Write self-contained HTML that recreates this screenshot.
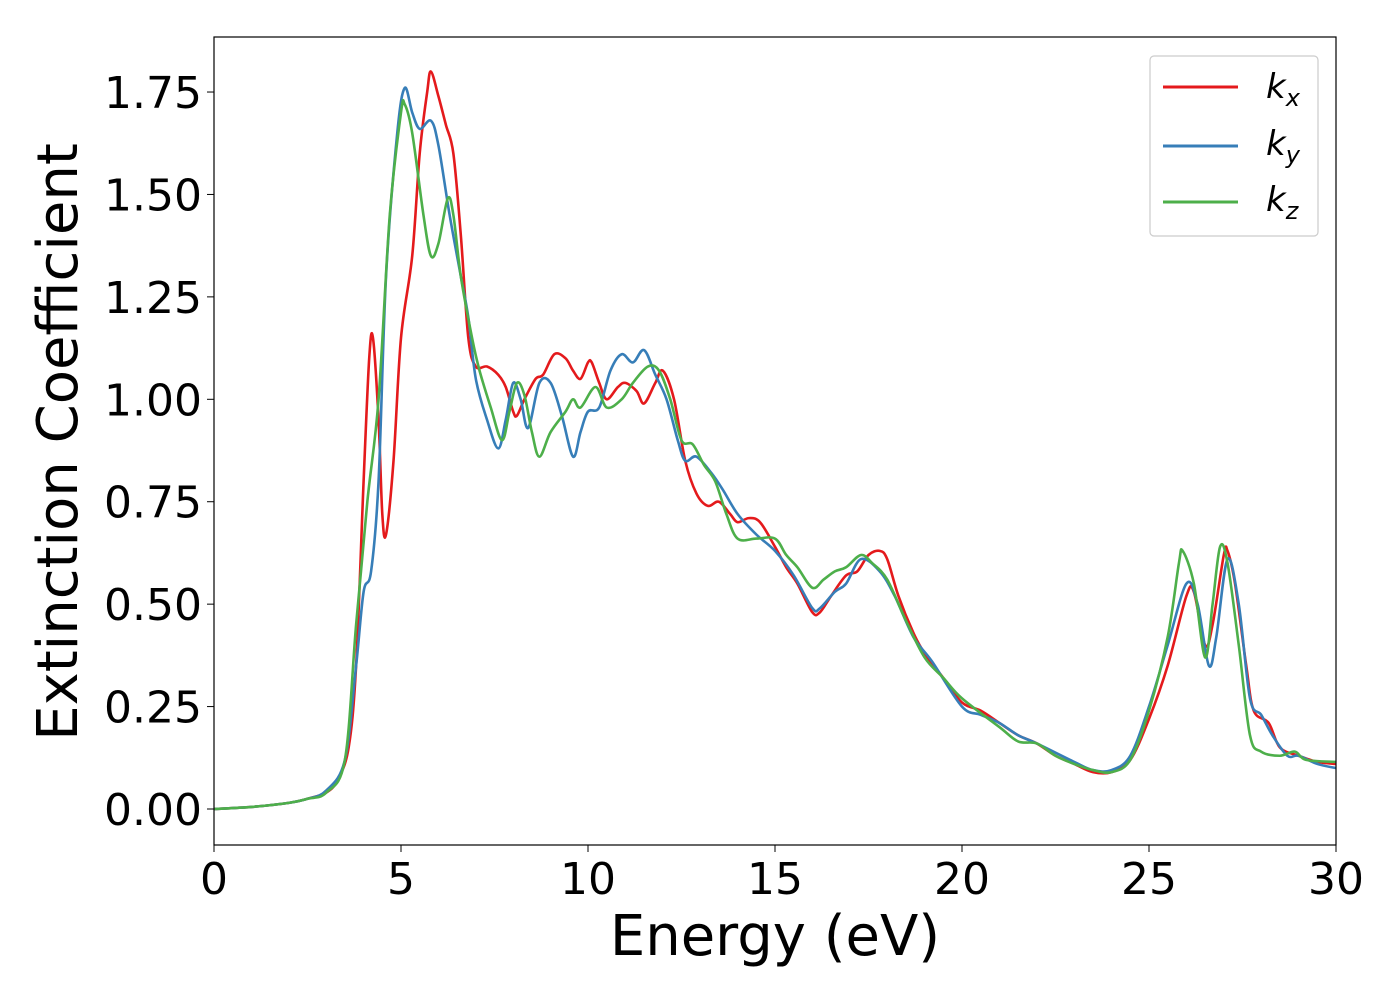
<!DOCTYPE html>
<html><head><meta charset="utf-8"><style>body{margin:0;background:#fff}</style></head>
<body>
<svg id="chart" width="1400" height="1000" xmlns="http://www.w3.org/2000/svg" font-family="'DejaVu Sans','Liberation Sans',sans-serif">
<rect width="1400" height="1000" fill="#fff"/>
<g id="series"></g>
<rect x="214" y="37" width="1122" height="808" fill="none" stroke="#000" stroke-width="1.2"/>
<g id="ticks"></g>
<text x="775" y="955" font-size="56" text-anchor="middle">Energy (eV)</text>
<text transform="translate(77,442) rotate(-90)" font-size="56" text-anchor="middle">Extinction Coefficient</text>
<g>
<rect x="1150" y="56" width="168" height="180" rx="4" fill="#fff" stroke="#ccc" stroke-width="1.2"/>
<line x1="1163" y1="87" x2="1238" y2="87" stroke="#e41a1c" stroke-width="3"/>
<text x="1266" y="98" font-size="34" font-style="italic">k<tspan font-size="24" dy="8">x</tspan></text>
<line x1="1163" y1="146" x2="1238" y2="146" stroke="#377eb8" stroke-width="3"/>
<text x="1266" y="155" font-size="34" font-style="italic">k<tspan font-size="24" dy="8">y</tspan></text>
<line x1="1163" y1="202" x2="1238" y2="202" stroke="#4daf4a" stroke-width="3"/>
<text x="1266" y="211" font-size="34" font-style="italic">k<tspan font-size="24" dy="8">z</tspan></text>
</g>
</svg>
<script>
const xTicks=[0,5,10,15,20,25,30];
const yTicks=[0,0.25,0.5,0.75,1.0,1.25,1.5,1.75];
const kxE=[0,1,2,2.5,3,3.3,3.6,3.8,4.0,4.15,4.25,4.4,4.5,4.6,4.8,5.0,5.3,5.5,5.7,5.8,6.0,6.2,6.4,6.6,6.8,7.0,7.3,7.6,7.8,8.0,8.1,8.3,8.6,8.8,9.1,9.4,9.6,9.8,10.0,10.1,10.3,10.5,10.8,11.0,11.3,11.5,11.8,12.0,12.3,12.6,12.9,13.2,13.5,13.8,14.0,14.3,14.6,15.0,15.3,15.6,16.0,16.2,16.5,16.9,17.2,17.5,17.8,18.0,18.3,18.7,19.0,19.5,20,20.5,21,21.5,22,22.5,23,23.5,24,24.5,25,25.5,26,26.2,26.5,26.7,27.0,27.1,27.3,27.6,27.8,28.2,28.5,29,29.5,30];
const kxV=[0,0.005,0.015,0.025,0.04,0.07,0.15,0.35,0.8,1.1,1.15,0.95,0.72,0.67,0.85,1.15,1.35,1.6,1.75,1.8,1.74,1.67,1.6,1.4,1.15,1.08,1.08,1.06,1.03,0.97,0.96,1.0,1.05,1.06,1.11,1.1,1.07,1.05,1.09,1.09,1.04,1.0,1.03,1.04,1.02,0.99,1.04,1.07,1.0,0.85,0.77,0.74,0.75,0.72,0.7,0.71,0.7,0.64,0.59,0.55,0.48,0.48,0.52,0.57,0.58,0.62,0.63,0.61,0.52,0.43,0.38,0.32,0.26,0.24,0.21,0.18,0.16,0.13,0.11,0.09,0.09,0.12,0.22,0.35,0.52,0.53,0.4,0.45,0.62,0.63,0.55,0.35,0.24,0.21,0.15,0.13,0.115,0.11];
const kyE=[0,1,2,2.5,3,3.5,3.8,4.0,4.2,4.4,4.6,4.9,5.1,5.3,5.5,5.8,6.0,6.3,6.6,6.8,7.0,7.3,7.6,7.8,8.0,8.2,8.4,8.7,9.0,9.3,9.6,9.8,10.0,10.3,10.6,10.9,11.2,11.5,11.8,12.1,12.4,12.6,12.9,13.3,13.6,14,14.5,15,15.5,16,16.2,16.6,16.9,17.3,17.8,18.2,18.7,19.2,20,20.5,21,21.5,22,23,23.5,24,24.5,25,25.5,26,26.3,26.6,26.8,27.1,27.4,27.7,28,28.3,28.7,29,29.5,30];
const kyV=[0,0.005,0.015,0.025,0.045,0.12,0.35,0.53,0.58,0.8,1.3,1.65,1.76,1.7,1.66,1.68,1.62,1.45,1.3,1.2,1.05,0.95,0.88,0.95,1.04,1.0,0.93,1.04,1.04,0.96,0.86,0.92,0.97,0.98,1.07,1.11,1.09,1.12,1.06,1.0,0.9,0.85,0.86,0.82,0.78,0.72,0.67,0.63,0.57,0.49,0.49,0.53,0.55,0.61,0.58,0.52,0.42,0.36,0.25,0.23,0.21,0.18,0.16,0.115,0.095,0.095,0.13,0.25,0.4,0.55,0.5,0.35,0.42,0.61,0.5,0.27,0.23,0.18,0.13,0.13,0.11,0.1];
const kzE=[0,1,2,2.5,3,3.5,3.8,4.1,4.4,4.7,5.0,5.1,5.3,5.6,5.8,6.0,6.25,6.4,6.6,6.9,7.1,7.4,7.7,7.9,8.1,8.3,8.5,8.7,9.0,9.4,9.6,9.8,10.2,10.5,10.9,11.2,11.6,11.9,12.2,12.5,12.8,13.1,13.4,13.7,14.0,14.5,15.0,15.3,15.6,16.0,16.3,16.6,16.9,17.3,17.6,18.0,18.5,19.0,19.5,20,21,21.5,22,22.5,23,23.5,24,24.5,25,25.5,25.8,25.9,26.2,26.5,26.7,26.9,27.1,27.4,27.7,28,28.5,28.9,29.2,30];
const kzV=[0,0.005,0.015,0.025,0.04,0.12,0.45,0.75,1.0,1.45,1.7,1.72,1.65,1.45,1.35,1.38,1.49,1.45,1.3,1.15,1.07,0.98,0.9,0.97,1.04,1.01,0.92,0.86,0.92,0.97,1.0,0.98,1.03,0.98,1.0,1.04,1.08,1.07,1.0,0.9,0.89,0.84,0.8,0.72,0.66,0.66,0.66,0.62,0.59,0.54,0.56,0.58,0.59,0.62,0.6,0.56,0.46,0.37,0.32,0.27,0.2,0.165,0.16,0.13,0.11,0.095,0.09,0.12,0.24,0.42,0.6,0.63,0.55,0.37,0.5,0.64,0.6,0.4,0.18,0.14,0.13,0.14,0.12,0.115];
const sx=e=>214+e*1122/30;
const sy=v=>809-v*409.7;
const NS='http://www.w3.org/2000/svg';
function pathFor(E,V){
  const p=E.map((e,i)=>[sx(e),sy(V[i])]);
  let d='M'+p[0][0]+','+p[0][1];
  for(let i=0;i<p.length-1;i++){
    const p0=p[Math.max(0,i-1)],p1=p[i],p2=p[i+1],p3=p[Math.min(p.length-1,i+2)];
    const c1=[p1[0]+(p2[0]-p0[0])/6,p1[1]+(p2[1]-p0[1])/6];
    const c2=[p2[0]-(p3[0]-p1[0])/6,p2[1]-(p3[1]-p1[1])/6];
    d+=' C'+c1+' '+c2+' '+p2;
  }
  return d;
}
const g=document.getElementById('series');
[[kxE,kxV,'#e41a1c','series-kx'],[kyE,kyV,'#377eb8','series-ky'],[kzE,kzV,'#4daf4a','series-kz']].forEach(s=>{
  const el=document.createElementNS(NS,'path');
  el.setAttribute('d',pathFor(s[0],s[1]));
  el.setAttribute('fill','none');el.setAttribute('stroke',s[2]);el.setAttribute('stroke-width','2.6');
  
  
  g.appendChild(el);
});
const t=document.getElementById('ticks');
xTicks.forEach(v=>{
  const l=document.createElementNS(NS,'line');
  l.setAttribute('x1',sx(v));l.setAttribute('x2',sx(v));l.setAttribute('y1',845);l.setAttribute('y2',852);l.setAttribute('stroke','#000');
  
  
  t.appendChild(l);
  const tx=document.createElementNS(NS,'text');
  tx.setAttribute('x',sx(v));tx.setAttribute('y',894);tx.setAttribute('font-size','44');tx.setAttribute('text-anchor','middle');
  tx.textContent=v;
  
  
  t.appendChild(tx);
});
yTicks.forEach(v=>{
  const l=document.createElementNS(NS,'line');
  l.setAttribute('x1',207);l.setAttribute('x2',214);l.setAttribute('y1',sy(v));l.setAttribute('y2',sy(v));l.setAttribute('stroke','#000');
  
  
  t.appendChild(l);
  const tx=document.createElementNS(NS,'text');
  tx.setAttribute('x',202);tx.setAttribute('y',sy(v)+16);tx.setAttribute('font-size','44');tx.setAttribute('text-anchor','end');
  tx.textContent=v.toFixed(2);
  
  
  t.appendChild(tx);
});
</script>
</body></html>
